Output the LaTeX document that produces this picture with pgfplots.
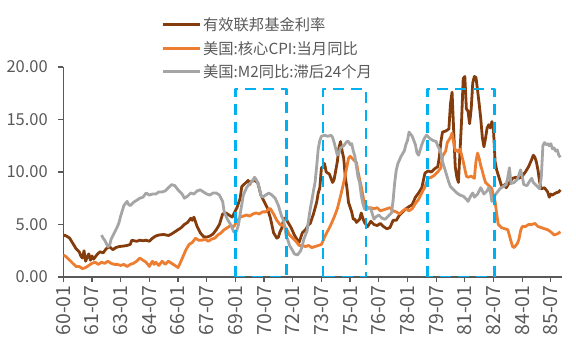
\documentclass[border=0pt]{standalone}
\usepackage{pgfplots}
\pgfplotsset{compat=1.18}
\usepackage{fontspec}
\setmainfont{Noto Sans CJK SC}
\definecolor{ffc}{HTML}{843C0C}
\definecolor{cpic}{HTML}{ED7D31}
\definecolor{m2c}{HTML}{A5A5A5}
\definecolor{boxc}{HTML}{00B0F0}
\definecolor{axc}{HTML}{595959}
\begin{document}
\begin{tikzpicture}[x=1pt,y=1pt]
\begin{axis}[
  at={(63.3pt,78pt)}, anchor=south west,
  scale only axis, width=498.7pt, height=210pt,
  xmin=0, xmax=313, ymin=0, ymax=20,
  axis x line*=bottom, axis y line*=left,
  x axis line style={-}, y axis line style={-},
  axis line style={axc, line width=1.5pt},
  tick style={axc, line width=1.2pt},
  major tick length=5pt, tick align=outside,
  ytick={0,5,10,15,20},
  /pgf/number format/fixed, /pgf/number format/fixed zerofill, /pgf/number format/precision=2,
  /pgf/number format/assume math mode=true,
  xtick={0,18,36,54,72,90,108,126,144,162,180,198,216,234,252,270,288,306},
  xticklabels={60-01,61-07,63-01,64-07,66-01,67-07,69-01,70-07,72-01,73-07,75-01,76-07,78-01,79-07,81-01,82-07,84-01,85-07},
  xticklabel style={rotate=90, anchor=east, font=\fontsize{19.5}{19.5}\selectfont, text=axc},
  yticklabel style={font=\fontsize{16.5}{16.5}\selectfont, text=axc, xshift=-7pt},
  legend style={at={(0.19,1.255)}, anchor=north west, draw=none, fill=none,
    font=\fontsize{15.3}{18}\selectfont, text=axc, row sep=5pt},
  legend cell align=left,
  legend image code/.code={\draw[#1, line width=2.8pt] (0pt,0pt) -- (37pt,0pt);},
  every axis plot/.append style={line join=round},
]
\addplot[ffc, line width=2.8pt] coordinates {
(0,4.0)(2,3.9)(4,3.7)(6,3.2)(8,2.7)(10,2.4)(11,2.0)(12,1.8)(13,2.5)(14,1.5)(15,1.9)(16,2.2)(17,1.6)(18,2.0)(19,1.7)(21,2.1)(23,2.4)(25,2.3)(27,2.7)(29,2.9)(31,2.6)(33,2.8)(35,2.9)(38,2.95)(40,3.0)(42,3.1)(43,3.5)(46,3.4)(48,3.5)(50,3.45)(52,3.5)(54,3.4)(56,3.7)(58,3.9)(60,4.0)(63,4.05)(66,3.95)(68,4.1)(70,4.3)(72,4.5)(74,4.7)(76,5.0)(78,5.2)(80,5.6)(81,5.4)(82,5.7)(84,4.8)(86,4.2)(88,3.85)(90,3.8)(92,3.9)(94,4.1)(96,4.5)(98,5.0)(100,6.0)(102,6.1)(104,5.9)(106,5.7)(107,6.0)(109,6.6)(111,7.5)(112,8.6)(114,8.9)(116,9.2)(117,8.8)(118,9.1)(120,9.2)(122,9.0)(123,8.4)(124,7.8)(126,7.2)(128,6.6)(130,5.6)(132,4.2)(134,3.7)(135,3.8)(136,4.3)(137,4.6)(138,5.3)(139,5.6)(140,5.5)(141,5.2)(143,4.7)(145,4.0)(147,3.5)(148,3.3)(150,4.2)(152,4.5)(154,5.0)(155,5.1)(157,6.0)(159,7.1)(160,8.0)(161,8.5)(162,10.4)(163,10.5)(164,10.8)(165,10.0)(167,9.8)(169,9.0)(170,9.3)(172,11.0)(173,12.3)(174,12.9)(175,12.0)(176,11.3)(177,9.5)(178,8.5)(179,7.1)(181,6.2)(182,5.5)(183,5.5)(184,5.2)(186,5.5)(187,6.1)(188,5.6)(189,5.2)(191,4.8)(193,5.3)(195,5.0)(197,4.9)(199,5.1)(201,4.8)(203,4.6)(205,4.7)(207,5.4)(209,5.4)(211,5.9)(213,6.2)(215,6.5)(217,6.7)(219,6.9)(221,7.6)(223,8.0)(225,8.5)(227,9.9)(229,10.1)(231,10.0)(233,10.3)(235,10.5)(236,11.4)(237,12.9)(238,13.8)(240,13.9)(242,14.1)(243,16.5)(244,17.6)(245,14.0)(246,10.5)(247,9.5)(248,9.0)(249,12.0)(250,15.0)(251,18.9)(252,19.1)(253,16.0)(254,15.8)(255,14.6)(256,16.0)(257,18.5)(258,19.1)(259,19.0)(260,17.8)(261,16.5)(262,15.1)(263,13.3)(264,12.4)(265,13.2)(266,14.2)(267,14.5)(268,14.2)(269,14.8)(270,14.0)(271,11.0)(272,10.2)(273,9.7)(274,9.2)(275,8.7)(276,8.6)(277,8.8)(278,8.5)(280,9.0)(282,9.4)(284,9.5)(286,9.4)(288,9.6)(290,10.0)(292,10.5)(294,11.2)(295,11.6)(296,11.4)(297,10.9)(298,10.1)(299,9.0)(300,8.4)(302,8.5)(304,8.1)(305,7.6)(306,7.9)(307,7.8)(309,8.0)(311,8.1)(312,8.3)
};
\addlegendentry{有效联邦基金利率}
\addplot[cpic, line width=2.8pt] coordinates {
(0,2.1)(2,1.9)(4,1.6)(6,1.3)(8,1.0)(10,1.0)(12,0.8)(14,0.9)(16,1.1)(18,1.3)(20,1.4)(22,1.2)(24,1.4)(26,1.3)(28,1.5)(30,1.3)(32,1.2)(34,1.2)(36,1.1)(38,1.2)(40,1.0)(42,1.2)(44,1.3)(46,1.5)(48,1.8)(50,1.6)(52,1.4)(54,1.0)(55,1.3)(56,1.5)(57,1.2)(58,1.4)(60,1.1)(62,1.5)(64,1.2)(66,1.5)(68,1.3)(70,1.1)(72,0.9)(73,1.2)(75,1.9)(77,2.6)(79,3.1)(81,3.3)(83,3.7)(85,3.5)(87,3.5)(89,3.6)(91,3.4)(93,3.6)(95,3.7)(97,4.0)(99,4.2)(101,4.5)(103,4.7)(105,4.9)(107,4.8)(109,5.3)(111,5.7)(113,5.8)(115,5.9)(117,5.8)(119,6.0)(121,6.1)(123,6.0)(125,6.2)(127,6.2)(129,6.5)(130,6.5)(132,6.0)(134,5.4)(136,5.0)(138,4.9)(140,4.6)(142,4.0)(144,3.7)(146,3.4)(148,3.0)(150,3.0)(152,2.9)(154,3.0)(156,2.8)(158,2.9)(160,3.0)(162,3.1)(164,3.8)(166,4.4)(168,5.0)(170,5.7)(172,6.5)(174,7.7)(176,9.0)(178,10.5)(179,11.3)(180,11.5)(182,11.2)(184,10.9)(185,10.0)(187,8.6)(189,7.0)(191,6.6)(193,6.6)(195,6.5)(197,6.6)(199,6.3)(201,6.4)(203,6.5)(205,6.6)(207,6.3)(209,6.2)(211,6.0)(213,6.3)(215,6.5)(217,6.3)(219,6.5)(221,7.0)(223,7.4)(225,8.0)(227,8.6)(229,9.4)(231,9.5)(233,9.7)(235,10.0)(237,10.4)(238,11.5)(240,12.0)(241,12.8)(243,13.3)(244,13.7)(245,12.8)(246,12.0)(247,12.1)(248,11.9)(249,12.2)(250,11.6)(251,11.0)(252,10.3)(253,9.6)(254,9.5)(256,9.6)(258,9.4)(259,11.0)(260,11.8)(261,11.3)(262,10.6)(263,10.1)(264,9.5)(265,9.0)(267,8.7)(269,8.4)(270,7.6)(271,7.2)(272,6.0)(273,5.0)(275,4.7)(277,4.6)(279,4.5)(281,3.4)(282,2.9)(283,2.8)(285,3.2)(286,3.6)(287,4.4)(288,4.8)(290,4.8)(292,5.0)(294,5.0)(296,5.1)(298,4.8)(300,4.7)(302,4.6)(304,4.5)(306,4.3)(308,4.0)(310,4.1)(312,4.3)
};
\addlegendentry{美国:核心CPI:当月同比}
\addplot[m2c, line width=2.8pt] coordinates {
(24,4.0)(25,3.7)(26,3.5)(27,3.2)(28,2.9)(29,3.0)(30,3.6)(32,4.2)(34,4.8)(35,5.2)(36,5.8)(37,6.3)(38,6.8)(39,7.0)(40,7.2)(41,6.9)(42,6.8)(44,7.1)(46,7.3)(48,7.5)(50,7.6)(52,8.0)(54,7.8)(56,7.9)(58,7.9)(60,8.1)(62,8.1)(64,8.2)(66,8.5)(68,8.8)(70,8.7)(72,8.3)(74,8.0)(75,7.8)(76,7.5)(78,7.7)(80,8.0)(82,7.9)(84,8.2)(86,8.3)(88,8.1)(90,7.9)(92,7.8)(94,8.0)(96,8.0)(98,7.8)(100,7.2)(101,6.2)(103,5.5)(105,5.0)(107,4.3)(108,4.2)(109,4.5)(110,5.0)(111,6.0)(112,6.9)(113,7.8)(115,8.5)(117,8.9)(119,9.2)(120,9.5)(121,9.3)(122,9.0)(123,8.5)(124,7.8)(125,7.6)(127,7.8)(129,8.0)(131,7.8)(133,7.5)(135,6.8)(137,5.8)(138,5.5)(139,4.8)(140,3.8)(141,3.5)(142,3.0)(144,2.5)(145,2.2)(147,2.1)(149,2.5)(150,3.0)(151,3.6)(152,4.0)(153,4.4)(154,5.5)(155,6.5)(156,7.3)(157,8.2)(158,9.0)(159,10.5)(160,12.2)(161,13.0)(162,13.4)(164,13.5)(166,13.4)(168,13.5)(169,13.3)(170,12.8)(171,12.2)(172,11.6)(173,11.8)(174,12.3)(176,12.5)(178,12.9)(179,12.9)(180,12.6)(181,12.7)(182,12.0)(183,11.5)(184,10.5)(185,9.5)(186,9.0)(187,7.8)(188,7.0)(189,6.5)(190,6.4)(192,6.6)(193,6.5)(194,6.0)(195,5.5)(196,5.7)(198,5.9)(200,5.6)(202,5.5)(204,5.8)(206,6.1)(207,7.3)(208,9.0)(209,10.2)(210,10.8)(212,11.5)(214,12.0)(215,12.6)(216,13.0)(217,13.8)(218,13.6)(219,13.4)(220,13.0)(221,12.6)(222,11.8)(223,11.6)(224,12.1)(225,12.6)(226,13.0)(227,13.3)(228,13.5)(230,13.2)(232,13.0)(234,12.9)(235,12.5)(236,12.2)(237,11.8)(238,11.0)(239,10.5)(240,10.0)(241,9.5)(242,9.0)(243,8.6)(245,8.3)(247,8.0)(249,7.8)(251,7.7)(253,7.4)(254,7.2)(255,7.5)(256,7.8)(257,8.0)(258,7.6)(260,7.9)(261,8.2)(262,8.5)(263,8.2)(264,7.9)(266,8.2)(267,8.5)(268,8.2)(269,7.2)(270,7.4)(271,7.8)(272,8.0)(274,8.4)(276,8.6)(278,8.8)(279,9.5)(280,10.4)(281,8.9)(283,9.0)(285,9.3)(287,10.2)(288,9.6)(289,8.8)(291,8.7)(293,9.2)(294,9.4)(295,9.0)(297,8.7)(299,8.4)(300,9.5)(301,12.5)(302,12.8)(303,12.6)(304,12.7)(305,12.5)(306,12.7)(307,12.2)(308,12.3)(309,12.0)(310,12.1)(311,11.6)(312,11.4)
};
\addlegendentry{美国:M2同比:滞后24个月}
\addplot[boxc, line width=2.5pt, dash pattern=on 11pt off 7pt, forget plot] coordinates {(108,0)(108,17.9)(140,17.9)(140,0)(108,0)};
\addplot[boxc, line width=2.5pt, dash pattern=on 11pt off 7pt, forget plot] coordinates {(163,0)(163,17.9)(190,17.9)(190,0)(163,0)};
\addplot[boxc, line width=2.5pt, dash pattern=on 11pt off 7pt, forget plot] coordinates {(228.5,0)(228.5,17.9)(270.5,17.9)(270.5,0)(228.5,0)};
\end{axis}
\pgfresetboundingbox
\path (0,0) rectangle (576,355);
\end{tikzpicture}
\end{document}
